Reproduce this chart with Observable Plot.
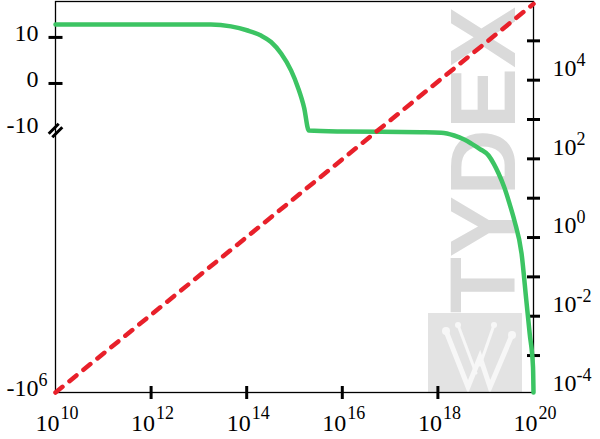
<!DOCTYPE html>
<html><head><meta charset="utf-8">
<script src="https://cdn.jsdelivr.net/npm/d3@7"></script>
<script src="https://cdn.jsdelivr.net/npm/@observablehq/plot@0.6"></script>
<style>
body{margin:0;background:#fff;}
#wrap{position:relative;width:600px;height:439px;overflow:hidden;}
#logo{position:absolute;left:428px;top:313px;width:94px;height:79px;}
#mark{position:absolute;left:483px;top:160px;transform:translate(-50%,-50%) rotate(-90deg);font:bold 92px "Liberation Sans", Arial, sans-serif;color:#dadada;white-space:nowrap;line-height:1;}
#chart{position:absolute;left:0;top:0;}
</style></head><body>
<div id="wrap">
<svg id="logo" viewBox="0 0 94 79"><rect width="94" height="79" fill="#e3e3e3"/>
<g fill="none" stroke="#f7f7f7" stroke-width="5" stroke-linecap="round">
<polyline points="18,18 40,74 52,44 62,74 84,22"/>
<polyline points="30,12 48,60" stroke-width="3"/><polyline points="66,12 52,52" stroke-width="3"/>
</g><g fill="#f7f7f7"><circle cx="18" cy="18" r="4"/><circle cx="30" cy="12" r="3"/><circle cx="66" cy="12" r="3"/><circle cx="84" cy="22" r="4"/></g></svg>
<div id="mark">TYDEX</div>
<div id="chart"></div></div>
<script>
// ---- data ----
const greenLogX = [10, 13.25, 13.67, 14.02, 14.30, 14.51, 14.72, 14.93, 15.07, 15.20, 15.30, 15.97, 17.65, 18.07, 18.34, 18.55, 18.70, 18.88, 19.06, 19.17, 19.27, 19.39, 19.50, 19.60, 19.75, 19.85, 19.92, 19.99, 20];
const greenValues = [12.8, 12.8, 12.4, 11.5, 10.4, 9.0, 6.5, 2.8, -0.8, -5.2, -10.45, -10.9, -11.25, -11.5, -13.0, -15.5, -18.5, -23.5, -31.2, -45, -68.7, -127, -260, -537, -2275, -17800, -75500, -331000, -1e6];
const redX = [1e10, 1e20];
const redY = [1.15e-4, 8.7e5];
const xTickExps = [12, 14, 16, 18];
const xLabelExps = [10, 12, 14, 16, 18, 20];
const leftTicks = [10, 0];
const leftLabels = [10, 0, -10, -1e6];
const leftBreak = [-10];
const rightTickExps = [-3, -2, -1, 0, 1, 2, 3, 4, 5];
const rightLabelExps = [4, 2, 0, -2, -4];

// ---- composite scales (left: linear above -10, log of negatives below) ----
const LIN_TOP = 17.8, BREAK = -10, LOG_BOTTOM = 1e6, BREAK_FRAC = 0.6726;
function fLeft(v) {
  if (v >= BREAK) return BREAK_FRAC + (v - BREAK) / (LIN_TOP - BREAK) * (1 - BREAK_FRAC);
  return BREAK_FRAC * (1 - (Math.log10(-v) - 1) / (Math.log10(LOG_BOTTOM) - 1));
}
const R_MIN = 1.15e-4, R_MAX = 1e6;
function fRight(v) { return (Math.log10(v) - Math.log10(R_MIN)) / (Math.log10(R_MAX) - Math.log10(R_MIN)); }

const green = greenLogX.map((e, i) => ({x: 10 ** e, y: fLeft(greenValues[i])}));
const red = redX.map((x, i) => ({x, y: fRight(redY[i])}));

function baseText(v) { return Math.abs(v) >= 1000 ? (v < 0 ? "-10" : "10") : String(v); }
function expText(v) { return Math.abs(v) >= 1000 ? String(Math.round(Math.log10(Math.abs(v)))) : ""; }

const hTick = {draw(ctx, size) { const r = Math.sqrt(size / Math.PI); ctx.moveTo(-r, 0); ctx.lineTo(r, 0); }};
const vTick = {draw(ctx, size) { const r = Math.sqrt(size / Math.PI); ctx.moveTo(0, -r); ctx.lineTo(0, r); }};
const breakSym = {draw(ctx) { ctx.moveTo(-6.8, 3.2); ctx.lineTo(3.2, -6.8); ctx.moveTo(-3.2, 6.8); ctx.lineTo(6.8, -3.2); }};

const serif = "Liberation Serif, Times New Roman, serif";
const chart = Plot.plot({
  width: 600, height: 439,
  marginLeft: 55, marginRight: 67, marginTop: 1, marginBottom: 47,
  style: {background: "transparent", fontFamily: serif},
  x: {type: "log", domain: [1e10, 1e20], axis: null},
  y: {type: "linear", domain: [0, 1], axis: null},
  marks: [
    Plot.frame({stroke: "black", strokeWidth: 1.3}),
    Plot.dot(leftTicks, {y: v => fLeft(v), frameAnchor: "left", symbol: hTick, r: 7, fill: "none", stroke: "black", strokeWidth: 3}),
    Plot.dot(leftBreak, {y: v => fLeft(v), frameAnchor: "left", dy: 1, symbol: breakSym, r: 7, fill: "none", stroke: "black", strokeWidth: 3}),
    Plot.dot(rightTickExps, {y: e => fRight(10 ** e), frameAnchor: "right", symbol: hTick, r: 6.5, fill: "none", stroke: "black", strokeWidth: 3}),
    Plot.dot(xTickExps, {x: e => 10 ** e, frameAnchor: "bottom", symbol: vTick, r: 6.5, fill: "none", stroke: "black", strokeWidth: 3}),
    Plot.line(green, {x: "x", y: "y", stroke: "#3cc463", strokeWidth: 4.5, curve: "monotone-x"}),
    Plot.line(red, {x: "x", y: "y", stroke: "#e8202a", strokeWidth: 4.5, strokeDasharray: "9,9"}),
    // left labels
    Plot.text(leftLabels, {y: v => fLeft(v), frameAnchor: "left", text: baseText, textAnchor: "end", dx: -17, dy: -4, fontSize: 24, fill: "black"}),
    Plot.text(leftLabels, {y: v => fLeft(v), frameAnchor: "left", text: expText, textAnchor: "start", dx: -17, dy: -12, fontSize: 18, fill: "black"}),
    // right labels
    Plot.text(rightLabelExps, {y: e => fRight(10 ** e), frameAnchor: "right", text: () => "10", textAnchor: "start", dx: 19, dy: -12, fontSize: 24, fill: "black"}),
    Plot.text(rightLabelExps, {y: e => fRight(10 ** e), frameAnchor: "right", text: e => String(e), textAnchor: "start", dx: 43, dy: -20, fontSize: 18, fill: "black"}),
    // bottom labels
    Plot.text(xLabelExps, {x: e => 10 ** e, frameAnchor: "bottom", text: () => "10", textAnchor: "end", dx: 4, dy: 38, fontSize: 24, fill: "black"}),
    Plot.text(xLabelExps, {x: e => 10 ** e, frameAnchor: "bottom", text: e => String(e), textAnchor: "start", dx: 5, dy: 26, fontSize: 18, fill: "black"})
  ]
});
document.getElementById("chart").appendChild(chart);
</script>
</body></html>
